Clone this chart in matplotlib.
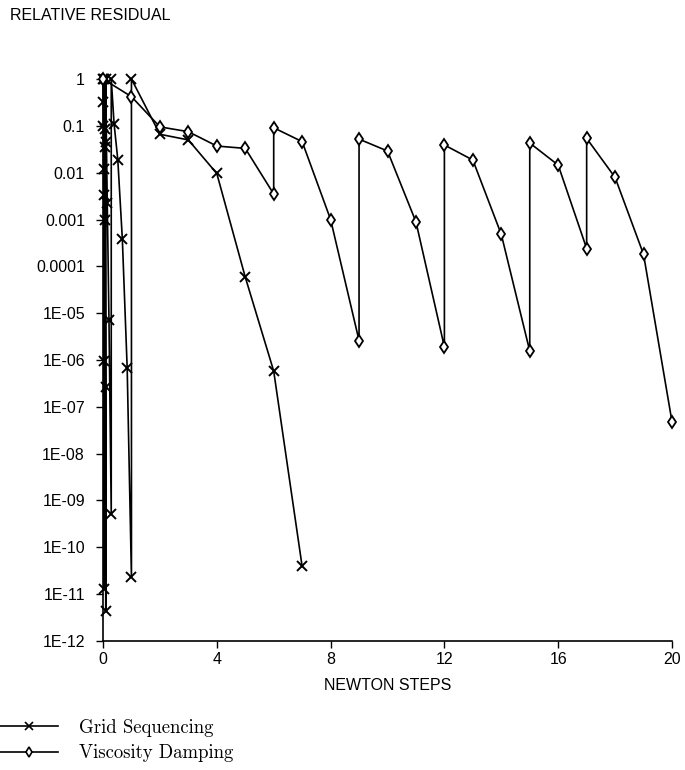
import matplotlib
matplotlib.use("Agg")
import matplotlib.pyplot as plt
from matplotlib.lines import Line2D

# ---- data ----
grid_x = [0.0, 0.008, 0.016, 0.024, 0.032, 0.040, 0.048,
          0.048, 0.058, 0.068, 0.078, 0.088, 0.098,
          0.098, 0.12, 0.15, 0.21, 0.29,
          0.29, 0.39, 0.52, 0.68, 0.85, 1.0,
          1.0, 2, 3, 4, 5, 6, 7]
grid_y = [1, 0.33, 0.1, 0.012, 0.0033, 9.4e-7, 1.3e-11,
          1, 0.085, 0.035, 0.001, 2.6e-7, 4.4e-12,
          1, 0.046, 0.0022, 7.2e-6, 5.1e-10,
          1, 0.11, 0.019, 3.8e-4, 6.7e-7, 2.3e-11,
          1, 0.066, 0.05, 0.0096, 5.9e-5, 5.8e-7, 3.9e-11]

visc_x = [0, 1, 2, 3, 4, 5, 6, 6, 7, 8, 9, 9, 10, 11, 12, 12, 13, 14, 15, 15,
          16, 17, 17, 18, 19, 20]
visc_y = [1, 0.42, 0.095, 0.075, 0.037, 0.033, 0.0035, 0.091, 0.046, 0.001,
          2.6e-6, 0.052, 0.029, 8.9e-4, 1.9e-6, 0.039, 0.0186, 4.8e-4, 1.55e-6,
          0.043, 0.0145, 2.4e-4, 0.054, 0.0079, 1.8e-4, 4.8e-8]

x_ticks = [0, 4, 8, 12, 16, 20]
y_ticks = [1, 1e-1, 1e-2, 1e-3, 1e-4, 1e-5, 1e-6, 1e-7, 1e-8, 1e-9, 1e-10, 1e-11, 1e-12]
y_tick_labels = ["1", "0.1", "0.01", "0.001", "0.0001", "1E-05", "1E-06", "1E-07",
                 "1E-08", "1E-09", "1E-10", "1E-11", "1E-12"]

series_names = ["Grid Sequencing", "Viscosity Damping"]

# ---- figure ----
W, H = 685, 770
fig = plt.figure(figsize=(W / 100, H / 100), dpi=100)
left, right, top, bottom = 103, 672, 79, 641
ax = fig.add_axes([left / W, 1 - bottom / H, (right - left) / W, (bottom - top) / H])

sans = "Liberation Sans"
serif = "cmr10"

ax.plot(grid_x, grid_y, color="black", lw=1.2, marker="x", ms=7.5, mew=1.4,
        clip_on=False, zorder=3)
ax.plot(visc_x, visc_y, color="black", lw=1.2, marker="d", ms=6, mew=1.3,
        mfc="white", clip_on=False, zorder=3)

ax.set_yscale("log")
ax.set_xlim(0, 20)
ax.set_ylim(1e-12, 1)
ax.set_xticks(x_ticks)
ax.set_xticklabels([str(t) for t in x_ticks], fontsize=11.5, family=sans)
ax.set_yticks(y_ticks)
ax.set_yticklabels(y_tick_labels, fontsize=11.5, family=sans)
ax.minorticks_off()
ax.tick_params(axis="y", direction="out", length=5, width=1, pad=8)
ax.tick_params(axis="x", direction="out", length=5, width=1, pad=3)
for s in ["top", "right"]:
    ax.spines[s].set_visible(False)
for s in ["left", "bottom"]:
    ax.spines[s].set_linewidth(1.2)

ax.set_xlabel("NEWTON STEPS", fontsize=11.5, family=sans, labelpad=8)
fig.text(10 / W, 1 - 15 / H, "RELATIVE RESIDUAL", fontsize=11.5, family=sans,
         ha="left", va="center")

handles = [Line2D([], [], color="black", lw=1.2, marker="x", ms=6, mew=1.2),
           Line2D([], [], color="black", lw=1.2, marker="d", ms=5, mew=1.2, mfc="white")]
fig.legend(handles, series_names, loc="upper left",
           bbox_to_anchor=(0.0, 1 - 719 / H), frameon=False,
           prop={"family": serif, "size": 13.5}, handlelength=3.1,
           handletextpad=1.1, borderpad=0, borderaxespad=0, labelspacing=0.4)

fig.savefig("out.png", dpi=100)
